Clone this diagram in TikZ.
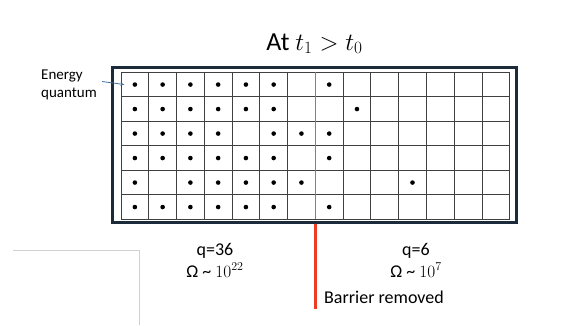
\documentclass[tikz,border=0pt]{standalone}
\usepackage{fontspec}
\setmainfont{Carlito}
\usetikzlibrary{arrows.meta}
\definecolor{framec}{HTML}{1C2B39}
\definecolor{arrowc}{HTML}{41719C}
\definecolor{barred}{HTML}{EE3B24}
\definecolor{lightg}{HTML}{D0D0D0}
\begin{document}
\begin{tikzpicture}[x=1pt,y=-1pt,
  gridline/.style={draw=black!75, line width=0.7pt},
  quantum/.style={circle, fill=black, inner sep=0pt, minimum size=4.6pt},
  lbl/.style={font=\fontsize{18}{21}\selectfont, inner sep=0pt},
  framebox/.style={draw=framec, line width=3pt, inner sep=0pt},
]
\useasboundingbox (0,0) rectangle (585,325);
\fill[white] (0,0) rectangle (585,325);
% grid
\foreach \i in {0,...,14}
  \draw[gridline] ({121+\i*27.76},72.3) -- ({121+\i*27.76},219.3);
\foreach \j in {0,...,6}
  \draw[gridline] (121,{72.3+\j*24.5}) -- (509.7,{72.3+\j*24.5});
\coordinate (btop) at (315.3,72.3);
\coordinate (bbot) at (315.3,219.3);
\draw[gray, line width=1.4pt] (btop) -- (bbot);
% frame
\node[framebox, minimum width=404pt, minimum height=154.5pt] (box) at (314.5,144.75) {};
% barrier
\coordinate (bend) at (315.3,309);
\draw[barred, line width=3pt] (bbot |- box.south) -- (bend);
% quanta
\foreach \r/\cols in {1/{1,2,3,4,5,6,8}, 2/{1,2,3,4,5,6,9}, 3/{1,2,3,4,6,7,8}, 4/{1,2,3,4,5,6,8}, 5/{1,3,4,5,6,7,11}, 6/{1,2,3,4,5,6,8}}
  \foreach \c in \cols
    \node[quantum] (q-\r-\c) at ({121+(\c-0.5)*27.76},{72.3+(\r-0.5)*24.5}) {};
% energy label
\node[font=\fontsize{15}{18}\selectfont, align=left, anchor=north west, inner sep=0pt] (elabel) at (41,70) {Energy\\quantum};
\coordinate (astart) at (102,81.5);
\draw[arrowc, line width=0.8pt, -{Stealth[length=4pt,width=3pt]}] (astart) -- ([xshift=-8pt]q-1-1.west);
% title
\node[font=\fontsize{26}{30}\selectfont, anchor=base, inner sep=0pt] (title) at (314.5,50) {At $t_1 > t_0$};
% labels
\node[lbl, anchor=base] (qL) at (215,255) {q=36};
\node[lbl, anchor=base] (omL) at (215,277) {Ω \textasciitilde{} $10^{22}$};
\node[lbl, anchor=base] (qR) at (416,255) {q=6};
\node[lbl, anchor=base] (omR) at (416,277) {Ω \textasciitilde{} $10^{7}$};
\node[lbl, anchor=base west] (brm) at (324,303) {Barrier removed};
% light corner lines
\draw[lightg, line width=1pt] (13,250.5) -- (139,250.5) -- (139,325);
\end{tikzpicture}
\end{document}
